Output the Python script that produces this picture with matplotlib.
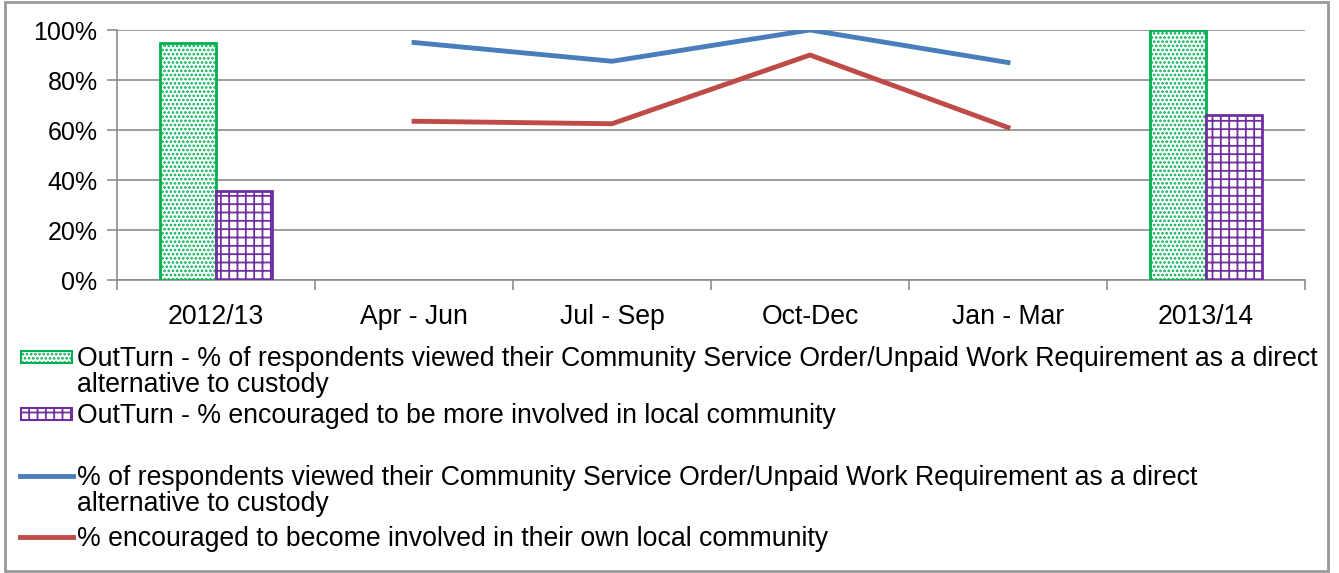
import numpy as np
import matplotlib
matplotlib.use("Agg")
import matplotlib.pyplot as plt
from matplotlib.patches import Rectangle
from matplotlib.lines import Line2D

plt.rcParams['font.family'] = ['Liberation Sans', 'DejaVu Sans']
plt.rcParams['hatch.linewidth'] = 1.3

categories = ["2012/13", "Apr - Jun", "Jul - Sep", "Oct-Dec", "Jan - Mar", "2013/14"]

# annual outturn bars (only first and last category)
bar_idx = [0, 5]
outturn_custody = [95, 100]
outturn_community = [35.5, 66]

# quarterly lines
line_idx = [1, 2, 3, 4]
custody_q = [95, 87.5, 100, 87]
community_q = [63.5, 62.5, 90, 61]

labels = [
    "OutTurn - % of respondents viewed their Community Service Order/Unpaid Work Requirement as a direct\nalternative to custody",
    "OutTurn - % encouraged to be more involved in local community",
    "% of respondents viewed their Community Service Order/Unpaid Work Requirement as a direct\nalternative to custody",
    "% encouraged to become involved in their own local community",
]

green = "#00B050"
purple = "#7030A0"
blue = "#4A7EBB"
red = "#BE4B48"
grid_c = "#8c8c8c"
fs = 19.2

W, H = 1339, 573
fig = plt.figure(figsize=(W / 100, H / 100), dpi=100)
ax = fig.add_axes([117 / W, 1 - 280 / H, (1305 - 117) / W, 250 / H])

bw = 0.285
x = np.arange(len(categories))
ax.bar(np.array(bar_idx) - bw / 2, outturn_custody, bw, facecolor="white",
       edgecolor=green, hatch="....", linewidth=2, zorder=3)
ax.bar(np.array(bar_idx) + bw / 2, outturn_community, bw, facecolor="white",
       edgecolor=purple, hatch="++", linewidth=2, zorder=3)
ax.plot(line_idx, custody_q, color=blue, linewidth=3.5, zorder=4)
ax.plot(line_idx, community_q, color=red, linewidth=3.5, zorder=4)

ax.set_xlim(-0.5, len(categories) - 0.5)
ax.set_ylim(0, 100)
ax.set_yticks(np.arange(0, 101, 20))
ax.set_yticklabels([f"{v}%" for v in range(0, 101, 20)], fontsize=18)
ax.set_xticks(x)
ax.set_xticklabels(categories, fontsize=fs)
ax.set_xticks(np.arange(-0.5, len(categories), 1), minor=True)
ax.tick_params(axis="x", which="major", length=0, pad=17)
ax.tick_params(axis="x", which="minor", length=7, color=grid_c, width=1.2)
ax.tick_params(axis="y", length=7, color=grid_c, width=1.2, pad=7)
ax.yaxis.grid(True, color=grid_c, linewidth=1.2, zorder=0)
ax.set_axisbelow(True)
for s in ["top", "right"]:
    ax.spines[s].set_visible(False)
for s in ["left", "bottom"]:
    ax.spines[s].set_color(grid_c)
    ax.spines[s].set_linewidth(1.2)

# legend drawn by hand so handles sit on the first line of wrapped text
def fx(px):
    return px / W

def fy(py):
    return 1 - py / H

rows = [357, 414, 476, 537]
for i, (yy, lab) in enumerate(zip(rows, labels)):
    if i < 2:
        col = green if i == 0 else purple
        hatch = "...." if i == 0 else "++"
        fig.add_artist(Rectangle((fx(21), fy(yy + 6)), fx(72) - fx(21), 12 / H,
                                 transform=fig.transFigure, facecolor="white",
                                 edgecolor=col, hatch=hatch, linewidth=1.5))
    else:
        col = blue if i == 2 else red
        fig.add_artist(Line2D([fx(20), fx(73)], [fy(yy), fy(yy)],
                              transform=fig.transFigure, color=col, linewidth=3.5))
    for k, part in enumerate(lab.split("\n")):
        fig.text(fx(77), fy(yy + 9 + 26 * k), part, fontsize=fs,
                 va="baseline", ha="left")

# outer chart border
fig.add_artist(Rectangle((fx(5), fy(571)), fx(1328) - fx(5), 569 / H,
                         transform=fig.transFigure, fill=False,
                         edgecolor="#999999", linewidth=2))

fig.savefig("out.png", dpi=100)
